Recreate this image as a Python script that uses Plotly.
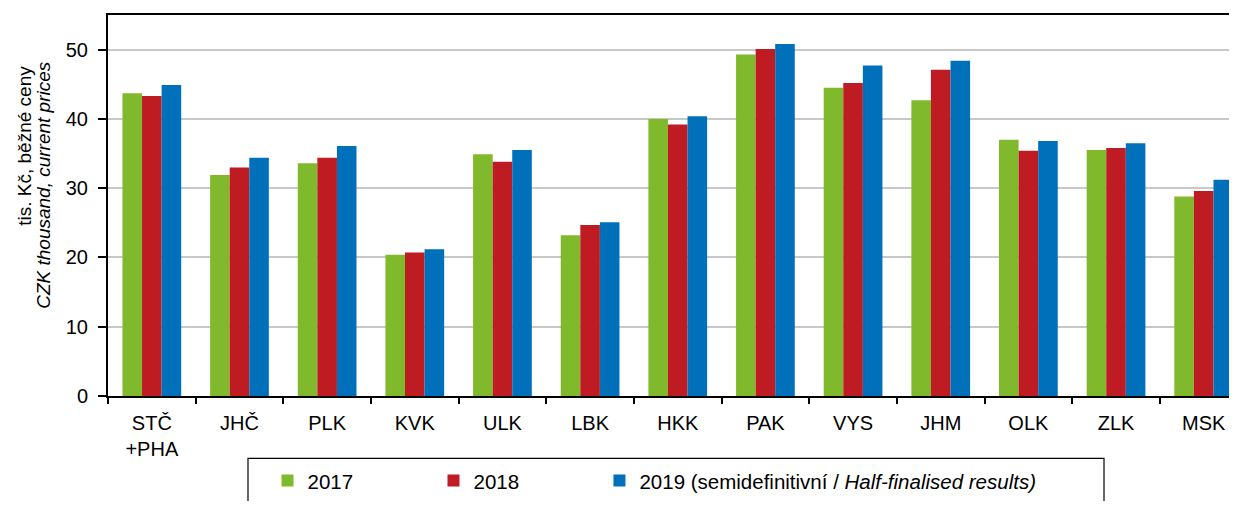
import plotly.graph_objects as go

regions = ["STČ<br>+PHA", "JHČ", "PLK", "KVK", "ULK", "LBK", "HKK",
           "PAK", "VYS", "JHM", "OLK", "ZLK", "MSK"]
y2017 = [43.7, 31.9, 33.6, 20.4, 34.9, 23.2, 40.0, 49.3, 44.5, 42.7, 37.0, 35.5, 28.8]
y2018 = [43.3, 33.0, 34.4, 20.7, 33.8, 24.7, 39.2, 50.1, 45.2, 47.1, 35.4, 35.8, 29.6]
y2019 = [44.9, 34.4, 36.1, 21.2, 35.5, 25.1, 40.4, 50.8, 47.7, 48.4, 36.8, 36.5, 31.2]

series = [
    ("2017", y2017, "#80BA2C", "legend", 0.1413),
    ("2018", y2018, "#BE1B23", "legend2", 0.2883),
    ("2019 (semidefinitivní / <i>Half-finalised results)</i>", y2019, "#0070BB", "legend3", 0.4353),
]

FONT = "Liberation Sans, Arial, sans-serif"

fig = go.Figure()
legends = {}
for name, vals, color, leg, lx in series:
    fig.add_trace(go.Bar(x=regions, y=vals, name=name, legend=leg,
                         marker=dict(color=color, line=dict(width=0))))
    legends[leg] = dict(orientation="h", x=lx, xanchor="left",
                        y=-0.2225, yanchor="middle",
                        font=dict(size=20.5), bgcolor="rgba(0,0,0,0)")

# y title as two separate lines (tight leading, like the original)
title_lines = [
    dict(text="tis. Kč, běžné ceny", xshift=-83, y=0.872),
    dict(text="<i>CZK thousand, current prices</i>", xshift=-64, y=0.885),
]
annotations = [
    dict(text=t["text"], xref="paper", yref="paper", x=0, y=t["y"],
         xanchor="center", yanchor="top", xshift=t["xshift"],
         textangle=-90, showarrow=False, font=dict(size=19))
    for t in title_lines
]

# the page body adds an 8px margin, so the figure is sized to fit inside it
fig.update_layout(
    width=1229, height=493,
    margin=dict(l=100, r=0, t=7, b=95),
    paper_bgcolor="white", plot_bgcolor="white",
    font=dict(family=FONT, size=20, color="black"),
    barmode="group", bargap=0.33, bargroupgap=0,
    showlegend=True,
    annotations=annotations,
    shapes=[dict(type="rect", xref="paper", yref="paper",
                 x0=0.124, x1=0.8822, y0=-0.1637, y1=-0.35,
                 line=dict(color="black", width=1.2))],
    **legends,
)

fig.update_xaxes(
    range=[-0.5, 12.38], automargin=False,
    showline=True, linecolor="black", linewidth=2, mirror=True,
    ticks="outside", tickson="boundaries", ticklen=6, tickwidth=1.5,
    tickcolor="black", showgrid=False, ticklabelstandoff=8,
)
fig.update_yaxes(
    range=[0, 55], dtick=10, tick0=0, automargin=False,
    showline=True, linecolor="black", linewidth=2,
    ticks="outside", ticklen=8, tickwidth=1.5, tickcolor="black",
    ticklabelstandoff=6,
    showgrid=True, gridcolor="#c8c8c8", gridwidth=1.5,
    zeroline=False,
)

fig.write_html("out.html")
